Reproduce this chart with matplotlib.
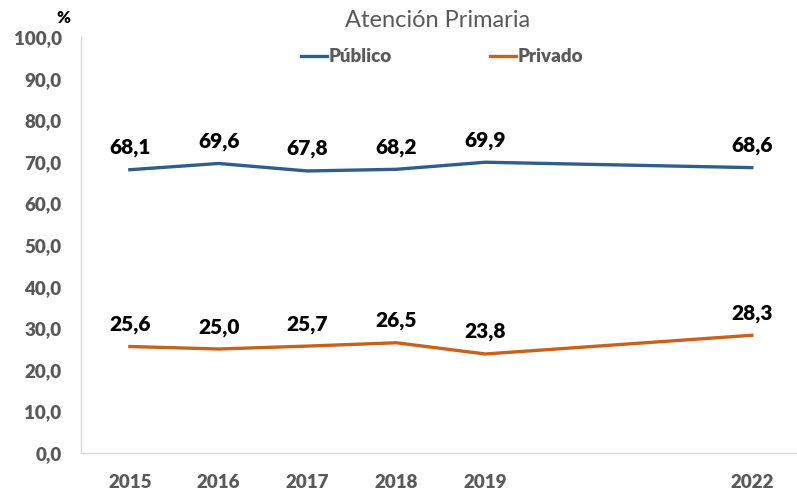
import matplotlib
matplotlib.use("Agg")
import matplotlib.pyplot as plt
from matplotlib.ticker import FixedLocator, FuncFormatter

years = [2015, 2016, 2017, 2018, 2019, 2022]
publico = [68.1, 69.6, 67.8, 68.2, 69.9, 68.6]
privado = [25.6, 25.0, 25.7, 26.5, 23.8, 28.3]
series_names = ["Público", "Privado"]
title = "Atención Primaria"
yticks = [0, 10, 20, 30, 40, 50, 60, 70, 80, 90, 100]

plt.rcParams['font.family'] = ['Lato', 'DejaVu Sans']
blue = "#2F5E8C"
orange = "#C8621B"
gray = "#595959"

fig = plt.figure(figsize=(7.97, 4.91), dpi=100)
ax = fig.add_axes([0.1016, 0.0774, 0.8974, 0.8472])

ax.plot(years, publico, color=blue, lw=2.4, label=series_names[0])
ax.plot(years, privado, color=orange, lw=2.4, label=series_names[1])

for vals in (publico, privado):
    for x, v in zip(years, vals):
        ax.annotate(f"{v:.1f}".replace(".", ","), (x, v), xytext=(0, 9), textcoords="offset points",
                    ha="center", va="bottom", fontsize=15, fontweight="heavy", color="black")

ax.set_ylim(0, 100)
ax.set_xlim(2014.45, 2022.5)
ax.yaxis.set_major_locator(FixedLocator(yticks))
ax.yaxis.set_major_formatter(FuncFormatter(lambda v, p: f"{v:.1f}".replace(".", ",")))
ax.set_xticks(years)
ax.set_xticklabels([str(y) for y in years])
for lab in ax.get_yticklabels() + ax.get_xticklabels():
    lab.set_fontweight("heavy")
    lab.set_fontsize(13.5)
    lab.set_color(gray)
ax.tick_params(axis="both", length=0)
ax.tick_params(axis="y", pad=14)
ax.tick_params(axis="x", pad=15)

for s in ["top", "right"]:
    ax.spines[s].set_visible(False)
for s in ["left", "bottom"]:
    ax.spines[s].set_color("#D9D9D9")
    ax.spines[s].set_linewidth(1.0)

fig.text(0.549, 0.958, title, ha="center", va="center", fontsize=17, color=gray)
fig.text(0.079, 0.963, "%", ha="center", va="center", fontsize=12, fontweight="heavy", color="black")

leg = ax.legend(loc="center", bbox_to_anchor=(0.505, 0.953), ncol=2, frameon=False,
                fontsize=13.5, handlelength=1.4, handletextpad=0.1, columnspacing=5.2)
for t in leg.get_texts():
    t.set_fontweight("heavy")
    t.set_color(gray)

fig.savefig("out.png", dpi=100)
